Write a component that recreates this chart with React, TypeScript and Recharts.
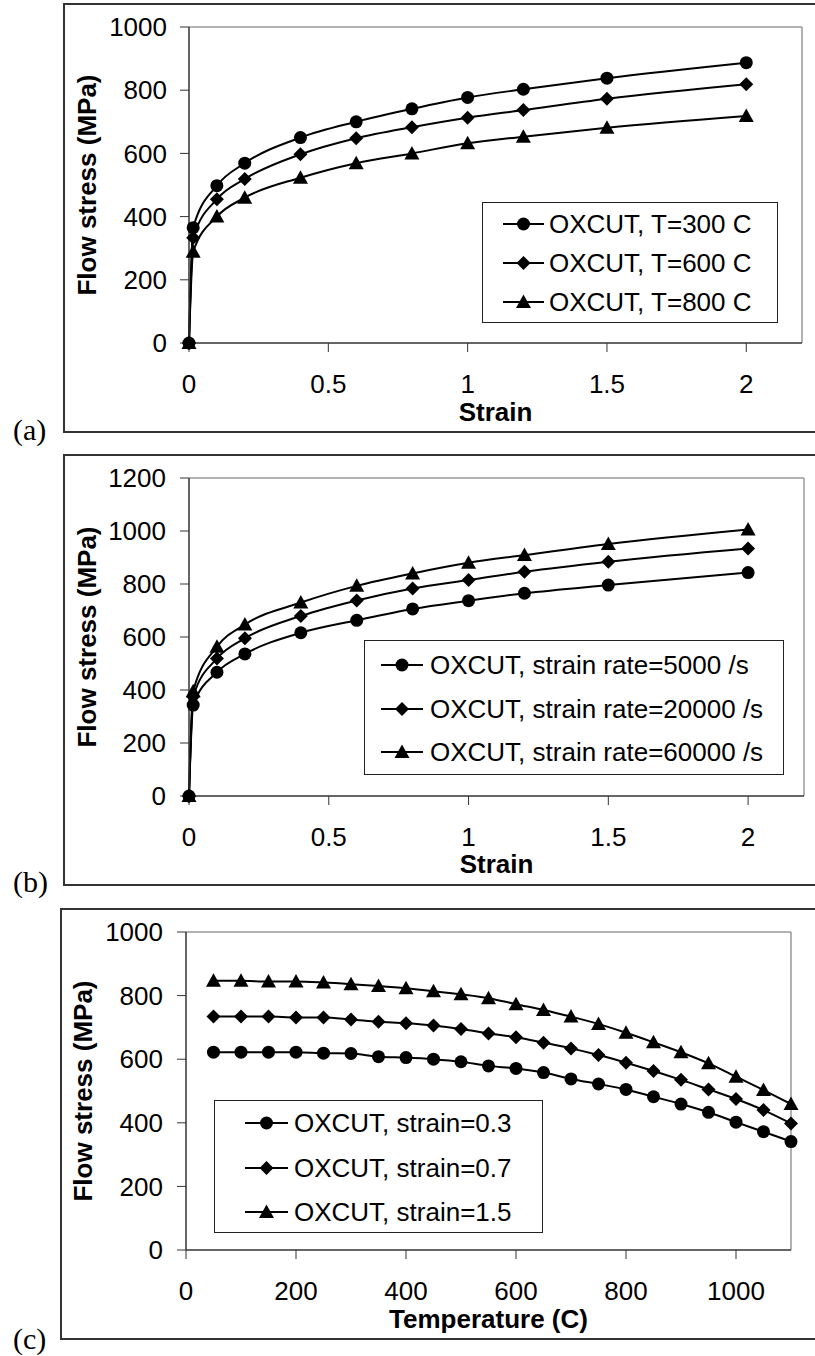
import React from 'react';
import { LineChart, Line, XAxis, YAxis, Legend, ReferenceLine } from 'recharts';

// ---- data ----
const strain = [0, 0.015, 0.1, 0.2, 0.4, 0.6, 0.8, 1.0, 1.2, 1.5, 2.0];

// (a) temperature effect
const stressT300 = [0, 365, 498, 569, 650, 700, 741, 777, 803, 838, 887];
const stressT600 = [0, 333, 455, 519, 597, 648, 683, 713, 737, 773, 819];
const stressT800 = [0, 289, 400, 460, 523, 569, 600, 632, 653, 681, 718];

// (b) strain rate effect
const stressR5000 = [0, 343, 467, 536, 616, 663, 706, 737, 765, 796, 843];
const stressR20000 = [0, 375, 519, 595, 679, 738, 783, 815, 846, 884, 934];
const stressR60000 = [0, 395, 563, 647, 730, 793, 840, 880, 909, 951, 1006];

// (c) stress vs temperature
const temperature = [50, 100, 150, 200, 250, 300, 350, 400, 450, 500, 550, 600, 650, 700, 750, 800, 850, 900, 950, 1000, 1050, 1100];
const stressS03 = [622, 622, 622, 622, 619, 618, 608, 605, 600, 592, 579, 571, 558, 538, 522, 505, 482, 459, 433, 402, 372, 341];
const stressS07 = [734, 734, 734, 731, 731, 725, 718, 713, 706, 695, 681, 669, 652, 634, 613, 589, 563, 535, 505, 475, 440, 398];
const stressS15 = [847, 847, 844, 844, 841, 836, 830, 823, 814, 804, 792, 773, 755, 734, 711, 683, 653, 622, 587, 545, 503, 459];

const strainTicks = [0, 0.5, 1, 1.5, 2];
const tempTicks = [0, 200, 400, 600, 800, 1000];
const stressTicksA = [0, 200, 400, 600, 800, 1000];
const stressTicksB = [0, 200, 400, 600, 800, 1000, 1200];

const namesA = ['OXCUT, T=300 C', 'OXCUT, T=600 C', 'OXCUT, T=800 C'];
const namesB = ['OXCUT, strain rate=5000 /s', 'OXCUT, strain rate=20000 /s', 'OXCUT, strain rate=60000 /s'];
const namesC = ['OXCUT, strain=0.3', 'OXCUT, strain=0.7', 'OXCUT, strain=1.5'];

const shapes = ['circle', 'diamond', 'triangle'];

const dataA = strain.map((x, i) => ({ x, s0: stressT300[i], s1: stressT600[i], s2: stressT800[i] }));
const dataB = strain.map((x, i) => ({ x, s0: stressR5000[i], s1: stressR20000[i], s2: stressR60000[i] }));
const dataC = temperature.map((x, i) => ({ x, s0: stressS03[i], s1: stressS07[i], s2: stressS15[i] }));

const FONT = 'Liberation Sans, Arial, Helvetica, sans-serif';
const AXIS = '#333';

const Marker = ({ shape, cx, cy }: { shape: string; cx: number; cy: number }) => {
  if (shape === 'circle') return <circle cx={cx} cy={cy} r={6.5} fill="#000" />;
  if (shape === 'diamond')
    return <polygon points={`${cx},${cy - 7} ${cx + 7},${cy} ${cx},${cy + 7} ${cx - 7},${cy}`} fill="#000" />;
  return <polygon points={`${cx},${cy - 7.5} ${cx + 7.5},${cy + 6} ${cx - 7.5},${cy + 6}`} fill="#000" />;
};

const makeDot = (shape: string) => (props: any) => {
  const { cx, cy, index } = props;
  if (cx == null || cy == null) return <g key={`d-${index}`} />;
  return (
    <g key={`d-${index}`}>
      <Marker shape={shape} cx={cx} cy={cy} />
    </g>
  );
};

interface LegendGeom {
  left: number;
  top: number;
  width: number;
  height: number;
  padTop: number;
  rowH: number;
  lineX: number;
  lineW: number;
  textX: number;
}

const LegendBox = ({ names, g }: { names: string[]; g: LegendGeom }) => (
  <div
    style={{
      position: 'relative',
      width: g.width,
      height: g.height,
      boxSizing: 'border-box',
      border: '1px solid #222',
      background: '#fff',
      fontFamily: FONT,
      fontSize: 26,
      color: '#000',
    }}
  >
    {names.map((n, i) => {
      const c = g.padTop + i * g.rowH - 1;
      return (
        <React.Fragment key={n}>
          <svg
            style={{ position: 'absolute', left: g.lineX, top: c - 10, overflow: 'visible' }}
            width={g.lineW}
            height={20}
          >
            <line x1={0} y1={10} x2={g.lineW} y2={10} stroke="#000" strokeWidth={2} />
            <Marker shape={shapes[i]} cx={g.lineW / 2} cy={10} />
          </svg>
          <div
            style={{
              position: 'absolute',
              left: g.textX,
              top: c - 13,
              height: 26,
              lineHeight: '26px',
              whiteSpace: 'nowrap',
            }}
          >
            {n}
          </div>
        </React.Fragment>
      );
    })}
  </div>
);

interface PanelProps {
  top: number;
  height: number;
  margin: { top: number; right: number; bottom: number; left: number };
  data: any[];
  xDomain: number[];
  xTicks: number[];
  yDomain: number[];
  yTicks: number[];
  xLabel: string;
  yLabelOffset: number;
  yTickMargin: number;
  xLabelOffset: number;
  names: string[];
  legend: LegendGeom;
}

const Panel = (p: PanelProps) => (
  <div style={{ position: 'absolute', left: 0, top: p.top }}>
    <LineChart width={815} height={p.height} data={p.data} margin={p.margin}>
      <XAxis
        dataKey="x"
        type="number"
        domain={p.xDomain}
        ticks={p.xTicks}
        tickSize={9}
        tickMargin={23}
        axisLine={{ stroke: AXIS, strokeWidth: 1.5 }}
        tickLine={{ stroke: AXIS, strokeWidth: 1 }}
        tick={{ fontSize: 26, fill: '#000', fontFamily: FONT }}
        height={80}
        label={{
          value: p.xLabel,
          position: 'insideBottom',
          offset: p.xLabelOffset,
          style: { fontSize: 26, fontWeight: 'bold', fill: '#000', fontFamily: FONT },
        }}
      />
      <YAxis
        type="number"
        domain={p.yDomain}
        ticks={p.yTicks}
        tickSize={9}
        tickMargin={p.yTickMargin}
        width={120}
        axisLine={{ stroke: AXIS, strokeWidth: 1.5 }}
        tickLine={{ stroke: AXIS, strokeWidth: 1 }}
        tick={{ fontSize: 26, fill: '#000', fontFamily: FONT }}
        label={{
          value: 'Flow stress (MPa)',
          angle: -90,
          position: 'insideLeft',
          offset: p.yLabelOffset,
          style: { fontSize: 26, fontWeight: 'bold', fill: '#000', fontFamily: FONT, textAnchor: 'middle' },
        }}
      />
      <ReferenceLine y={p.yDomain[1]} stroke="#999" strokeWidth={1.5} />
      <ReferenceLine x={p.xDomain[1]} stroke="#999" strokeWidth={1.5} />
      {['s0', 's1', 's2'].map((k, i) => (
        <Line
          key={k}
          dataKey={k}
          name={p.names[i]}
          type="monotone"
          stroke="#000"
          strokeWidth={2}
          dot={makeDot(shapes[i])}
          activeDot={false}
          isAnimationActive={false}
        />
      ))}
      <Legend
        layout="horizontal"
        verticalAlign="middle"
        align="center"
        content={() => <LegendBox names={p.names} g={p.legend} />}
        wrapperStyle={{
          left: p.legend.left,
          top: p.legend.top - p.top,
          width: p.legend.width,
          height: p.legend.height,
          bottom: 'auto',
          right: 'auto',
        }}
      />
    </LineChart>
  </div>
);

const frameStyle = (left: number, top: number, height: number): React.CSSProperties => ({
  position: 'absolute',
  left,
  top,
  width: 900,
  height,
  boxSizing: 'border-box',
  border: '2px solid #333',
});

const tagStyle = (top: number): React.CSSProperties => ({
  position: 'absolute',
  left: 13,
  top,
  fontFamily: 'Liberation Serif, Times New Roman, serif',
  fontSize: 30,
  lineHeight: '30px',
  color: '#000',
});

export default function App() {
  return (
    <div
      style={{
        position: 'absolute',
        left: 0,
        top: 0,
        width: 815,
        height: 1356,
        overflow: 'hidden',
        background: '#fff',
      }}
    >
      <div style={frameStyle(63, 3, 430)} />
      <div style={frameStyle(63, 454, 432)} />
      <div style={frameStyle(60, 908, 432)} />
      <div style={tagStyle(415)}>(a)</div>
      <div style={tagStyle(867)}>(b)</div>
      <div style={tagStyle(1324)}>(c)</div>

      <Panel
        top={0}
        height={440}
        margin={{ top: 27, right: 13, bottom: 17, left: 69 }}
        data={dataA}
        xDomain={[0, 2.2]}
        xTicks={strainTicks}
        yDomain={[0, 1000]}
        yTicks={stressTicksA}
        xLabel="Strain"
        yLabelOffset={18}
        yTickMargin={13}
        xLabelOffset={2}
        names={namesA}
        legend={{ left: 482, top: 202, width: 296, height: 121, padTop: 22, rowH: 39, lineX: 20, lineW: 41, textX: 66 }}
      />
      <Panel
        top={440}
        height={450}
        margin={{ top: 38, right: 11, bottom: 14, left: 69 }}
        data={dataB}
        xDomain={[0, 2.2]}
        xTicks={strainTicks}
        yDomain={[0, 1200]}
        yTicks={stressTicksB}
        xLabel="Strain"
        yLabelOffset={18}
        yTickMargin={14}
        xLabelOffset={3}
        names={namesB}
        legend={{ left: 364, top: 640, width: 420, height: 135, padTop: 25, rowH: 43.5, lineX: 16, lineW: 42, textX: 65 }}
      />
      <Panel
        top={900}
        height={456}
        margin={{ top: 32, right: 24, bottom: 26, left: 66 }}
        data={dataC}
        xDomain={[0, 1100]}
        xTicks={tempTicks}
        yDomain={[0, 1000]}
        yTicks={stressTicksA}
        xLabel="Temperature (C)"
        yLabelOffset={16.5}
        yTickMargin={14}
        xLabelOffset={2}
        names={namesC}
        legend={{ left: 214, top: 1100, width: 329, height: 133, padTop: 23, rowH: 44.5, lineX: 30, lineW: 43, textX: 79 }}
      />
    </div>
  );
}
